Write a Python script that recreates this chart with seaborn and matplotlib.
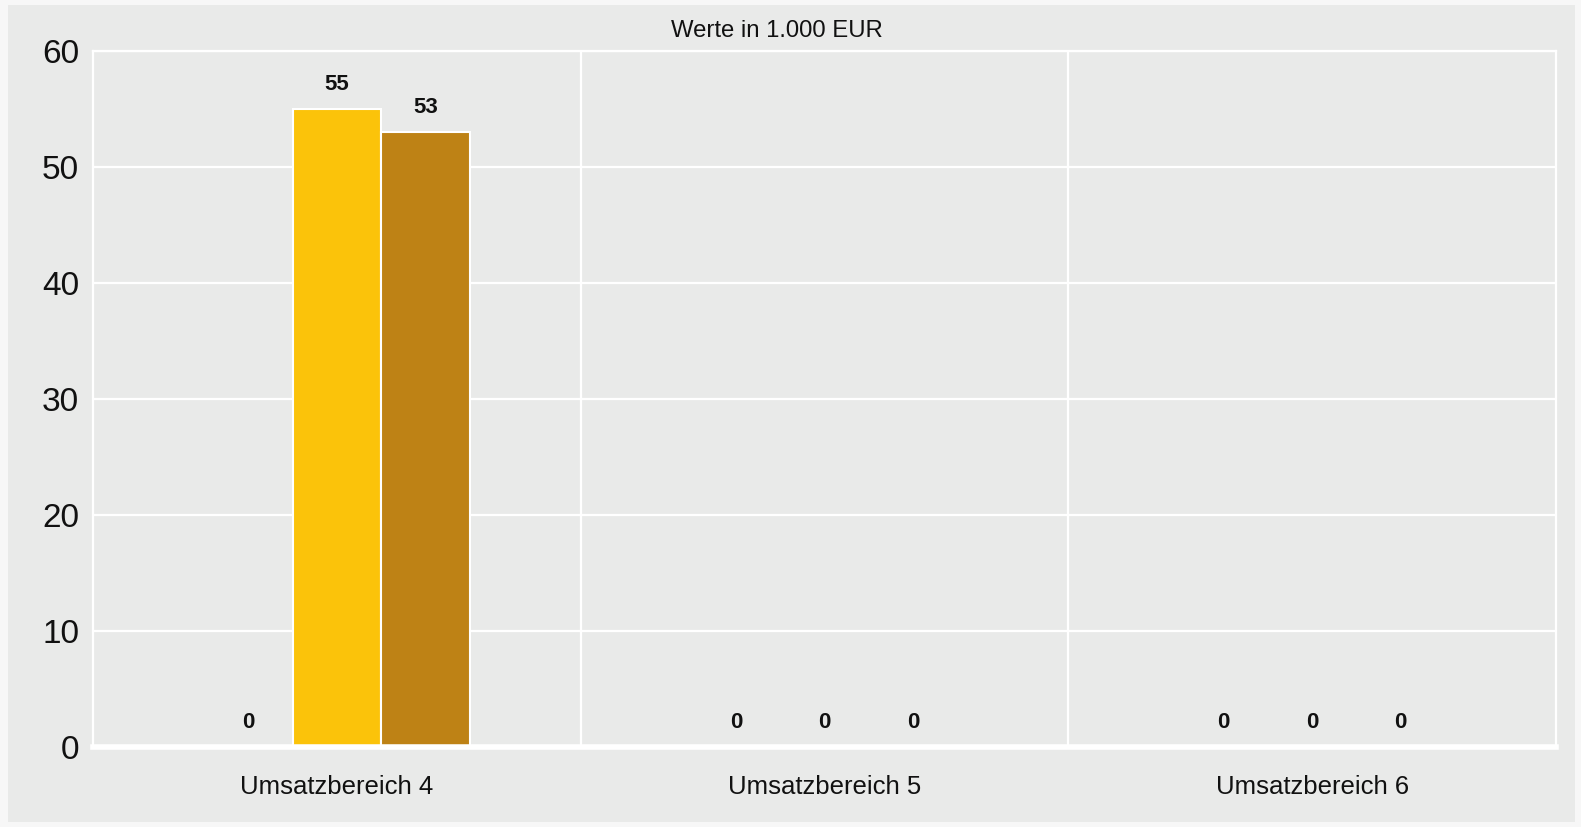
"""Umsatzbereiche: Werte in 1.000 EUR"""
import matplotlib
matplotlib.use("Agg")
import matplotlib.pyplot as plt
import pandas as pd
import seaborn as sns
from matplotlib.patches import Rectangle

categories = ["Umsatzbereich 4", "Umsatzbereich 5", "Umsatzbereich 6"]
series_names = ["Reihe 1", "Reihe 2", "Reihe 3"]
reihe_1 = [0, 0, 0]
reihe_2 = [55, 0, 0]
reihe_3 = [53, 0, 0]
colors = ["#F2D98A", "#FBC30A", "#BE8215"]
y_ticks = [0, 10, 20, 30, 40, 50, 60]

df = pd.DataFrame({
    "Bereich": categories * 3,
    "Reihe": [s for s in series_names for _ in categories],
    "Wert": reihe_1 + reihe_2 + reihe_3,
})

sns.set_style("white")
plt.rcParams["font.family"] = ["Liberation Sans", "DejaVu Sans"]

panel = "#E9EAE9"
fig = plt.figure(figsize=(15.81, 8.27), dpi=100)
fig.patch.set_facecolor("#F7F7F7")
fig.patches.append(Rectangle((8 / 1581, 5 / 827), 1567 / 1581, 817 / 827,
                             transform=fig.transFigure, facecolor=panel,
                             edgecolor="none", zorder=-10))
ax = fig.add_axes([93 / 1581, 1 - 747 / 827, 1463 / 1581, 696 / 827])
ax.set_facecolor(panel)

sns.barplot(data=df, x="Bereich", y="Wert", hue="Reihe", order=categories,
            hue_order=series_names, palette=colors, saturation=1, width=0.545,
            edgecolor="white", linewidth=1.5, legend=False, ax=ax, zorder=3)

for cont in ax.containers:
    ax.bar_label(cont, fmt="%d", padding=10, fontsize=16, fontweight="bold",
                 color="#111111")

ax.set_ylim(0, 60)
ax.set_xlim(-0.5, 2.5)
ax.set_yticks(y_ticks)
ax.yaxis.grid(True, color="white", linewidth=1.6, zorder=0)
for xv in [0.5, 1.5]:
    ax.axvline(xv, color="white", linewidth=1.6, zorder=0)
for side in ["left", "right", "top"]:
    ax.spines[side].set_color("white")
    ax.spines[side].set_linewidth(1.6)
ax.spines["bottom"].set_color("white")
ax.spines["bottom"].set_linewidth(4)
ax.spines["bottom"].set_zorder(4)

ax.tick_params(axis="y", length=0, pad=10, labelsize=24, labelcolor="#111111")
ax.tick_params(axis="x", length=0, pad=20, labelsize=18.5, labelcolor="#111111")
ax.set_xlabel("")
ax.set_ylabel("")
ax.set_title("Werte in 1.000 EUR", fontsize=17.2, color="#111111", pad=10,
             x=0.4675)

fig.savefig("out.png", dpi=100, facecolor=fig.get_facecolor())
